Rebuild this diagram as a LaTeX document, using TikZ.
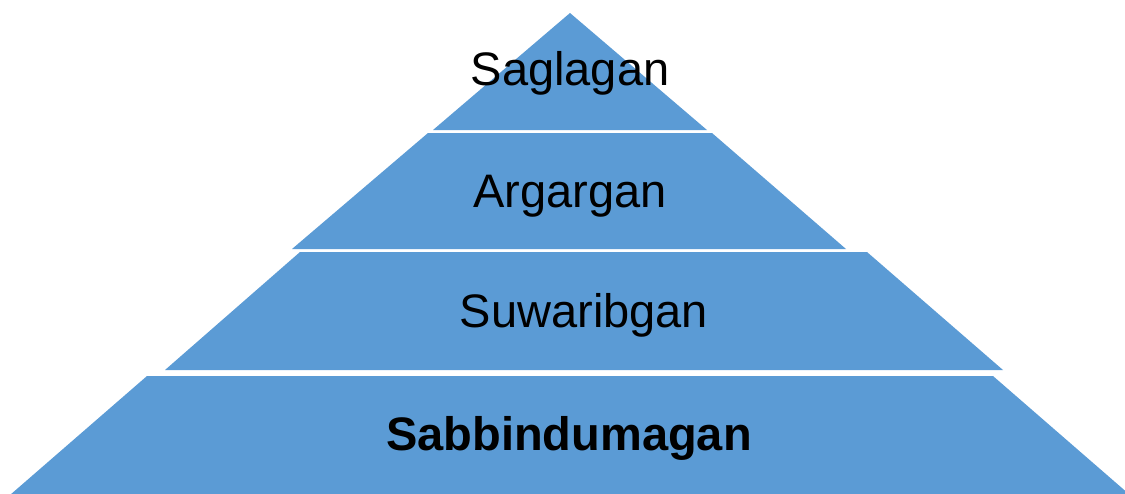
\documentclass[tikz,border=0pt]{standalone}
\usepackage{fontspec}
\setmainfont{Liberation Sans}
\definecolor{layerblue}{HTML}{5B9BD5}
\begin{document}
\begin{tikzpicture}[x=1pt,y=-1pt,
  layer/.style={fill=layerblue},
  lbl/.style={anchor=base,inner sep=0pt,font=\fontsize{47}{50}\selectfont}]
\useasboundingbox (0,0) rectangle (1125,493);
\begin{scope}
\clip (0,0) rectangle (1125,493);
\fill[layer] (570,13) -- (707,130) -- (433,130) -- cycle;
\fill[layer] (428,133) -- (712,133) -- (846,249) -- (292,249) -- cycle;
\fill[layer] (300,252) -- (867,252) -- (1003,370) -- (165,370) -- cycle;
\fill[layer] (147,376) -- (993,376) -- (1130,495) -- (10,495) -- cycle;
\end{scope}
\node[lbl] (saglagan) at (570,85) {Saglagan};
\node[lbl] (argargan) at (570,207) {Argargan};
\node[lbl] (suwaribgan) at (584,327) {Suwaribgan};
\node[lbl,font=\fontsize{47}{50}\selectfont\bfseries] (sabbindumagan) at (569,450) {Sabbindumagan};
\end{tikzpicture}
\end{document}
